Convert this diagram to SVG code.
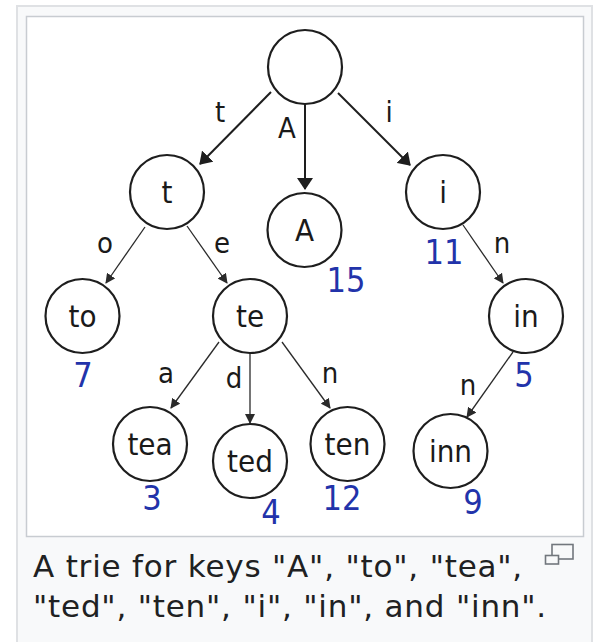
<svg xmlns="http://www.w3.org/2000/svg" width="596" height="642" viewBox="0 0 596 642">
  <style>
    .frame { fill: #f8f9fa; stroke: #dfe1e4; stroke-width: 2; }
    .box { fill: #ffffff; stroke: #c8ccd1; stroke-width: 1.5; }
    .node circle { fill: #ffffff; stroke: #1e1e1e; stroke-width: 2.2; }
    .node text, .elabel { font-family: "DejaVu Sans", "Liberation Sans", sans-serif; font-stretch: condensed; fill: #1a1a1a; text-anchor: middle; }
    .node text { font-size: 31px; }
    .elabel { font-size: 29px; }
    .node text.val { font-size: 34px; fill: #2233aa; }
    .edge-big { stroke: #1e1e1e; stroke-width: 2; fill: none; marker-end: url(#headBig); }
    .edge { stroke: #2a2a2a; stroke-width: 1.3; fill: none; marker-end: url(#head); }
    .caption { font-family: "DejaVu Sans", "Noto Sans", sans-serif; font-size: 31px; letter-spacing: 0.8px; fill: #202122; }
    .icon { fill: #f8f9fa; stroke: #72777d; stroke-width: 1.6; }
  </style>
  <defs>
    <marker id="headBig" markerUnits="userSpaceOnUse" viewBox="0 0 12 16" markerWidth="12" markerHeight="16" refX="11" refY="8" orient="auto">
      <path d="M0,0 L12,8 L0,16 Z" fill="#1e1e1e"/>
    </marker>
    <marker id="head" markerUnits="userSpaceOnUse" viewBox="0 0 10 10" markerWidth="10" markerHeight="10" refX="9" refY="5" orient="auto">
      <path d="M0,0 L10,5 L0,10 Z" fill="#2a2a2a"/>
    </marker>
  </defs>

  <!-- thumbnail frame -->
  <rect class="frame" x="17" y="6" width="575" height="700"/>
  <rect class="box" x="26.5" y="16.5" width="557" height="520"/>

  <!-- connectors -->
  <g id="edges">
    <line class="edge-big" x1="271" y1="92" x2="200" y2="164"/>
    <line class="edge-big" x1="305" y1="104" x2="305" y2="189"/>
    <line class="edge-big" x1="338" y1="93" x2="410" y2="165"/>
    <line class="edge" x1="145" y1="227" x2="106" y2="283"/>
    <line class="edge" x1="187" y1="226" x2="227" y2="283"/>
    <line class="edge" x1="463" y1="225" x2="503" y2="283"/>
    <line class="edge" x1="219" y1="342" x2="171" y2="408"/>
    <line class="edge" x1="250" y1="353" x2="250" y2="423"/>
    <line class="edge" x1="282" y1="342" x2="330" y2="408"/>
    <line class="edge" x1="513" y1="352" x2="467" y2="417"/>
    <text class="elabel" x="220" y="122">t</text>
    <text class="elabel" x="287" y="138">A</text>
    <text class="elabel" x="389" y="122">i</text>
    <text class="elabel" x="105" y="253">o</text>
    <text class="elabel" x="222" y="253">e</text>
    <text class="elabel" x="502" y="253">n</text>
    <text class="elabel" x="166" y="383">a</text>
    <text class="elabel" x="234" y="388">d</text>
    <text class="elabel" x="330" y="383">n</text>
    <text class="elabel" x="468" y="395">n</text>
  </g>

  <!-- trie nodes -->
  <g id="root" class="node"><circle cx="305" cy="67" r="37"/></g>
  <g id="n-t" class="node"><circle cx="167" cy="192" r="37"/><text x="167" y="203">t</text></g>
  <g id="n-A" class="node"><circle cx="304.5" cy="230" r="37"/><text x="304.5" y="241">A</text><text class="val" x="346" y="292">15</text></g>
  <g id="n-i" class="node"><circle cx="443" cy="192" r="37"/><text x="443" y="203">i</text><text class="val" x="444" y="264">11</text></g>
  <g id="n-to" class="node"><circle cx="82.5" cy="316" r="37"/><text x="82.5" y="327">to</text><text class="val" x="83" y="387">7</text></g>
  <g id="n-te" class="node"><circle cx="250" cy="316" r="37"/><text x="250" y="327">te</text></g>
  <g id="n-in" class="node"><circle cx="526" cy="316" r="37"/><text x="526" y="327">in</text><text class="val" x="524" y="387">5</text></g>
  <g id="n-tea" class="node"><circle cx="150" cy="444" r="37"/><text x="150" y="455">tea</text><text class="val" x="152" y="510">3</text></g>
  <g id="n-ted" class="node"><circle cx="250" cy="461" r="37"/><text x="250" y="472">ted</text><text class="val" x="271" y="524">4</text></g>
  <g id="n-ten" class="node"><circle cx="347.5" cy="444" r="37"/><text x="347.5" y="455">ten</text><text class="val" x="342" y="510">12</text></g>
  <g id="n-inn" class="node"><circle cx="450.5" cy="451" r="37"/><text x="450.5" y="462">inn</text><text class="val" x="473" y="514">9</text></g>

  <!-- caption -->
  <g id="caption">
    <rect class="icon" x="552" y="544.5" width="21" height="14.5"/>
    <rect class="icon" x="545.5" y="555.5" width="13" height="8.5"/>
    <text class="caption" x="33" y="577">A trie for keys "A", "to", "tea",</text>
    <text class="caption" x="33" y="617">"ted", "ten", "i", "in", and "inn".</text>
  </g>
</svg>
